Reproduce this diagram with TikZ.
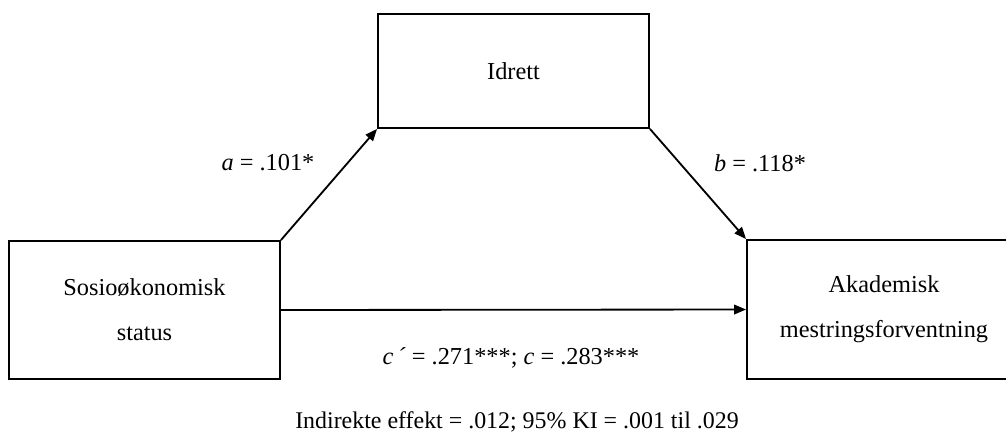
\documentclass[tikz,border=0pt]{standalone}
\usepackage{fontspec}
\setmainfont{Liberation Serif}
\usetikzlibrary{arrows.meta}

\tikzset{
  varbox/.style={draw, line width=1.3pt, inner sep=0pt, align=center,
    font=\fontsize{17.3}{32}\selectfont},
  coef/.style={font=\fontsize{17.3}{20}\selectfont, inner sep=0pt},
  path/.style={line width=1.3pt, -{Triangle[length=0.3cm, width=0.24cm]}}
}

\begin{document}
\begin{tikzpicture}[x=0.025cm, y=-0.025cm]
    \useasboundingbox (0,0) rectangle (1006,436);
    \clip (0,0) rectangle (1006,436);

    % variabler
    \node[varbox, minimum width=6.775cm, minimum height=2.85cm] (idr) at (513.5,71) {\raisebox{-0.12cm}{Idrett}};
    \node[varbox, minimum width=6.775cm, minimum height=3.45cm] (ses) at (144.5,310) {Sosioøkonomisk\\status};
    \node[varbox, minimum width=6.85cm, minimum height=3.475cm] (ame) at (884,309.5) {Akademisk\\mestringsforventning};

    % stier
    \draw[path] (ses.north east) -- (idr.south west);
    \draw[path] (idr.south east) -- (ame.north west);
    \draw[path] (ses.east) -- (ame.west);

    % koeffisienter
    \node[coef] (la) at (268,163) {\textit{a} = .101*};
    \node[coef] (lb) at (760,163) {\textit{b} = .118*};
    \node[coef] (lc) at (511,358) {\textit{c\,´} = .271***; \textit{c} = .283***};

    % indirekte effekt
    \node[coef, font=\fontsize{17}{20}\selectfont] (ind) at (517,422) {Indirekte effekt = .012; 95\% KI = .001 til .029};
\end{tikzpicture}
\end{document}
